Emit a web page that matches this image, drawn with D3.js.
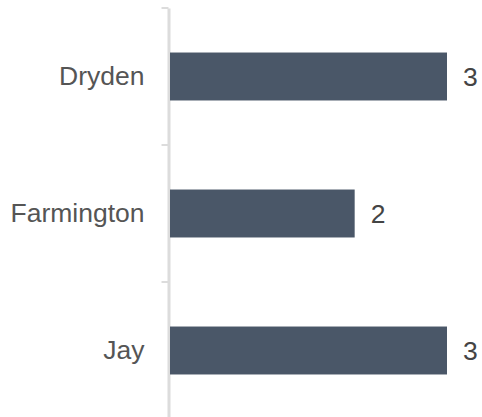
<!DOCTYPE html>
<html>
<head>
<meta charset="utf-8">
<script src="https://cdn.jsdelivr.net/npm/d3@7"></script>
<style>
  body { margin: 0; background: #fff; }
  text { font-family: "Liberation Sans", Arial, sans-serif; }
</style>
</head>
<body>
<div id="chart"></div>
<script>
// data
var towns = ["Dryden", "Farmington", "Jay"];
var counts = [3, 2, 3];

var W = 482, H = 417;
var margin = {top: 8, right: 35, bottom: 0, left: 168.5};

var svg = d3.select("#chart").append("svg")
    .attr("width", W)
    .attr("height", H);

var x = d3.scaleLinear()
    .domain([0, 3])
    .range([margin.left + 1.5, 447]);

var y = d3.scaleBand()
    .domain(towns)
    .range([margin.top, 419])
    .paddingInner(0.65)
    .paddingOuter(0.325);

// y axis
var yAxis = svg.append("g")
    .attr("transform", "translate(" + margin.left + ",0)")
    .call(d3.axisLeft(y).tickSize(0).tickPadding(24));

yAxis.select(".domain")
    .attr("stroke", "#dcdcdc")
    .attr("stroke-width", 3);

yAxis.selectAll("text")
    .attr("fill", "#555")
    .style("font-size", "26.5px");

// band boundary ticks
var bounds = d3.range(towns.length + 1).map(function(i) {
    return margin.top + i * y.step();
});
svg.selectAll(".bt")
    .data(bounds)
    .enter().append("line")
    .attr("class", "bt")
    .attr("x1", margin.left - 7)
    .attr("x2", margin.left)
    .attr("y1", function(d) { return d; })
    .attr("y2", function(d) { return d; })
    .attr("stroke", "#dcdcdc")
    .attr("stroke-width", 2);

// bars
svg.selectAll(".bar")
    .data(towns)
    .enter().append("rect")
    .attr("class", "bar")
    .attr("x", x(0))
    .attr("y", function(d) { return y(d); })
    .attr("width", function(d, i) { return x(counts[i]) - x(0); })
    .attr("height", y.bandwidth())
    .attr("fill", "#4a5768");

// value labels
svg.selectAll(".val")
    .data(towns)
    .enter().append("text")
    .attr("class", "val")
    .attr("x", function(d, i) { return x(counts[i]) + 16; })
    .attr("y", function(d) { return y(d) + y.bandwidth() / 2; })
    .attr("dy", "0.35em")
    .attr("fill", "#444")
    .style("font-size", "26.5px")
    .text(function(d, i) { return counts[i]; });
</script>
</body>
</html>
